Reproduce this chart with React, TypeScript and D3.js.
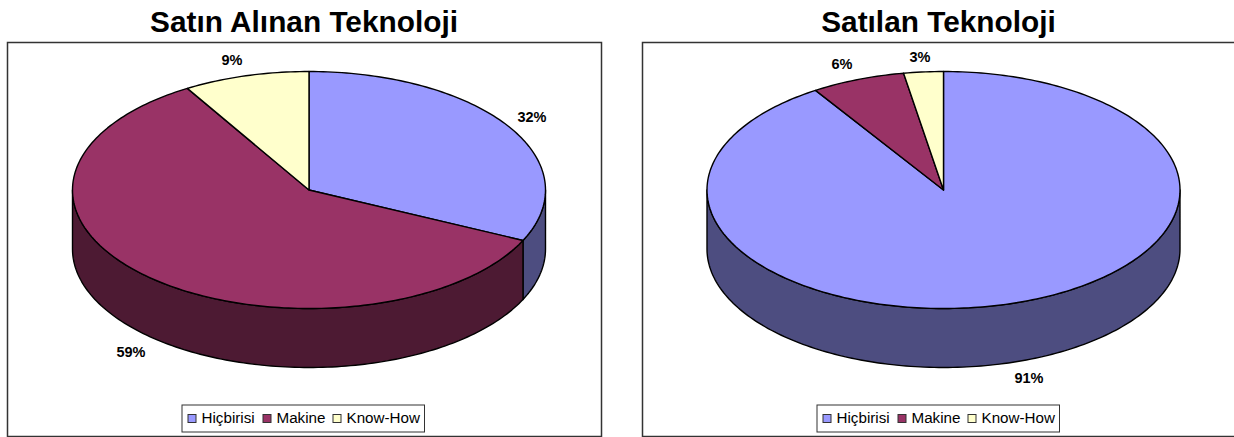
import React from "react";
import * as d3 from "d3";

const categories = ["Hiçbirisi", "Makine", "Know-How"];
const colors = ["#9999FF", "#993366", "#FFFFCC"];
const darkColors = ["#4D4D80", "#4D1A33", "#808066"];
const titleA = "Satın Alınan Teknoloji";
const titleB = "Satılan Teknoloji";
const valuesA = [32, 59.4, 8.6];
const valuesB = [90.9, 6.4, 2.7];
const labelsA = ["32%", "59%", "9%"];
const labelsB = ["91%", "6%", "3%"];
const labelPosA: [number, number][] = [[532, 117], [131, 352], [232, 60]];
const labelPosB: [number, number][] = [[1029, 378], [842, 64], [920, 57]];

const W = 1234, H = 437;

function Pie({ frameX, frameW, cx, title, titleX, values, labels, labelPos, legendX }: any) {
  const cy = 190, rx = 236.5, ry = 118.5, depth = 59;
  const sx = d3.scaleLinear().domain([-1, 1]).range([cx - rx, cx + rx]);
  const sy = d3.scaleLinear().domain([-1, 1]).range([cy - ry, cy + ry]);
  const pts = (a0: number, a1: number) => {
    const n = Math.max(2, Math.ceil((a1 - a0) / 0.02));
    return d3.range(n + 1).map((i) => a0 + ((a1 - a0) * i) / n);
  };
  const px = (a: number) => sx(Math.sin(a));
  const py = (a: number) => sy(-Math.cos(a));
  const line = d3.line<[number, number]>();
  const arcs = d3.pie<number>().sort(null).value((d) => d)(values);

  const walls = arcs.map((s, i) => {
    const a0 = Math.max(s.startAngle, Math.PI / 2);
    const a1 = Math.min(s.endAngle, (3 * Math.PI) / 2);
    if (a1 <= a0) return null;
    const top = pts(a0, a1).map((a) => [px(a), py(a)] as [number, number]);
    const bottom = top.slice().reverse().map(([x, y]) => [x, y + depth] as [number, number]);
    return <path key={i} d={line([...top, ...bottom])! + "Z"} fill={darkColors[i]} stroke="#000" strokeWidth={1.4} strokeLinejoin="round" />;
  });
  const tops = arcs.map((s, i) => {
    const outer = pts(s.startAngle, s.endAngle).map((a) => [px(a), py(a)] as [number, number]);
    return <path key={i} d={line([[cx, cy], ...outer])! + "Z"} fill={colors[i]} stroke="#000" strokeWidth={1.4} strokeLinejoin="round" />;
  });

  const legendW = 242.5, legendY = 405, legendH = 27;
  const swatchOff = [6, 81, 151];
  const textOff = [19.5, 94.5, 164.5];
  return (
    <g>
      <text x={titleX} y={32} textAnchor="middle" fontFamily="'Liberation Sans', Arial, sans-serif" fontWeight={700} fontSize={29.8} fill="#000">{title}</text>
      <rect x={frameX} y={42.5} width={frameW} height={394} fill="#fff" stroke="#333" strokeWidth={1.5} />
      {walls}
      {tops}
      {labels.map((l: string, i: number) => (
        <text key={i} x={labelPos[i][0]} y={labelPos[i][1]} dy="0.35em" textAnchor="middle" fontFamily="'Liberation Sans', Arial, sans-serif" fontWeight={700} fontSize={14.5} fill="#000">{l}</text>
      ))}
      <rect x={legendX} y={legendY} width={legendW} height={legendH} fill="#fff" stroke="#333" strokeWidth={1} />
      {categories.map((c, i) => (
        <g key={c}>
          <rect x={legendX + swatchOff[i]} y={legendY + 9.5} width={8} height={8} fill={colors[i]} stroke="#333" strokeWidth={1} />
          <text x={legendX + textOff[i]} y={legendY + 18} fontFamily="'Liberation Sans', Arial, sans-serif" fontSize={15.2} fill="#000">{c}</text>
        </g>
      ))}
    </g>
  );
}

export default function App() {
  return (
    <svg width={W} height={H} viewBox={`0 0 ${W} ${H}`} style={{ position: "fixed", left: 0, top: 0, background: "#fff" }}>
      <Pie frameX={7.5} frameW={594} cx={309} title={titleA} titleX={304} values={valuesA} labels={labelsA} labelPos={labelPosA} legendX={182} />
      <Pie frameX={642.5} frameW={594} cx={943.5} title={titleB} titleX={938.5} values={valuesB} labels={labelsB} labelPos={labelPosB} legendX={817} />
    </svg>
  );
}
